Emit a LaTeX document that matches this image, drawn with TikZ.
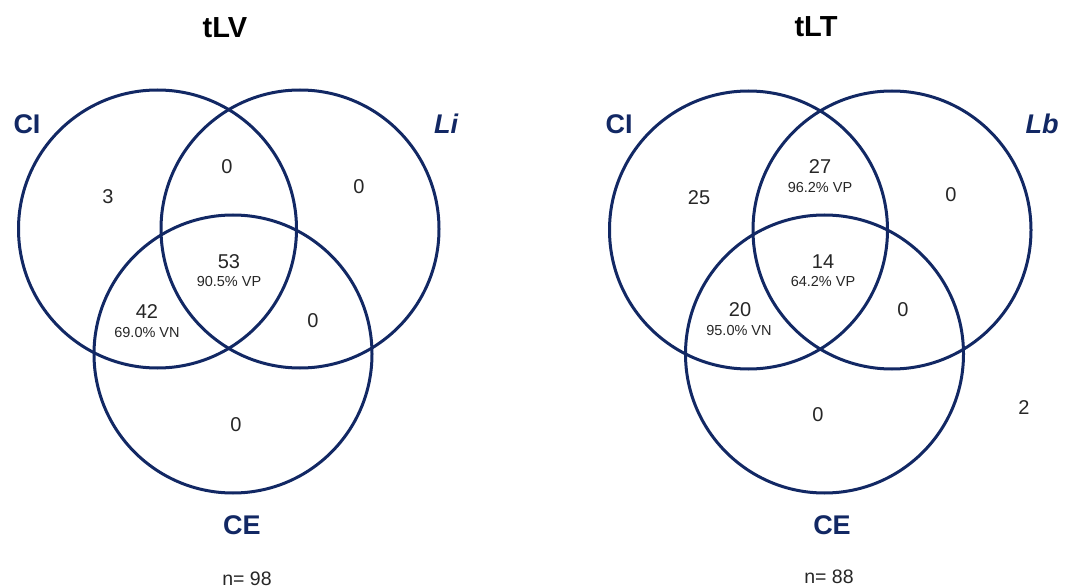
\documentclass[tikz,border=0pt]{standalone}
\usepackage{fontspec}
\setmainfont{Liberation Sans}
\definecolor{navy}{RGB}{18,40,100}
\begin{document}
\begin{tikzpicture}[x=1pt,y=-1pt,
  setc/.style={circle,draw=navy,line width=3pt,minimum size=278pt,inner sep=0pt},
  ttl/.style={font=\fontsize{29}{29}\selectfont\bfseries,text=black},
  setlbl/.style={font=\fontsize{27}{27}\selectfont\bfseries,text=navy},
  num/.style={font=\fontsize{20}{20}\selectfont,text=black!85},
  pct/.style={font=\fontsize{14.5}{14.5}\selectfont,text=black!85},
  nn/.style={font=\fontsize{19.5}{19.5}\selectfont,text=black!85}]
\useasboundingbox (0,0) rectangle (1066,588);
% ---- left diagram ----
\node[setc] (ciA) at (157.5,229) {};
\node[setc] (liA) at (300,229) {};
\node[setc] (ceA) at (233,354) {};
\node[ttl] (tA) at (225,28) {tLV};
\node[setlbl] (lciA) at (27,124) {CI};
\node[setlbl] (lliA) at (446,124) {\itshape Li};
\node[setlbl] (lceA) at (242,525) {CE};
\node[num] (a1) at (108,197) {3};
\node[num] (a2) at (227,167) {0};
\node[num] (a3) at (359,187) {0};
\node[num] (a4) at (229,262) {53};
\node[pct] (a4p) at (229,282) {90.5\% VP};
\node[num] (a5) at (147,312) {42};
\node[pct] (a5p) at (147,333) {69.0\% VN};
\node[num] (a6) at (313,321) {0};
\node[num] (a7) at (236,425) {0};
\node[nn] (nA) at (247,579) {n= 98};
% ---- right diagram ----
\node[setc] (ciB) at (748.5,230) {};
\node[setc] (lbB) at (892,230) {};
\node[setc] (ceB) at (824.5,354) {};
\node[ttl] (tB) at (816,27) {tLT};
\node[setlbl] (lciB) at (619,124) {CI};
\node[setlbl] (llbB) at (1042,124) {\itshape Lb};
\node[setlbl] (lceB) at (832,525) {CE};
\node[num] (b1) at (699,198) {25};
\node[num] (b2) at (820,167) {27};
\node[pct] (b2p) at (820,188) {96.2\% VP};
\node[num] (b3) at (951,195) {0};
\node[num] (b4) at (823,262) {14};
\node[pct] (b4p) at (823,282) {64.2\% VP};
\node[num] (b5) at (740,310) {20};
\node[pct] (b5p) at (739,331) {95.0\% VN};
\node[num] (b6) at (903,310) {0};
\node[num] (b7) at (818,415) {0};
\node[num] (b8) at (1024,408) {2};
\node[nn] (nB) at (829,577) {n= 88};
\end{tikzpicture}
\end{document}
